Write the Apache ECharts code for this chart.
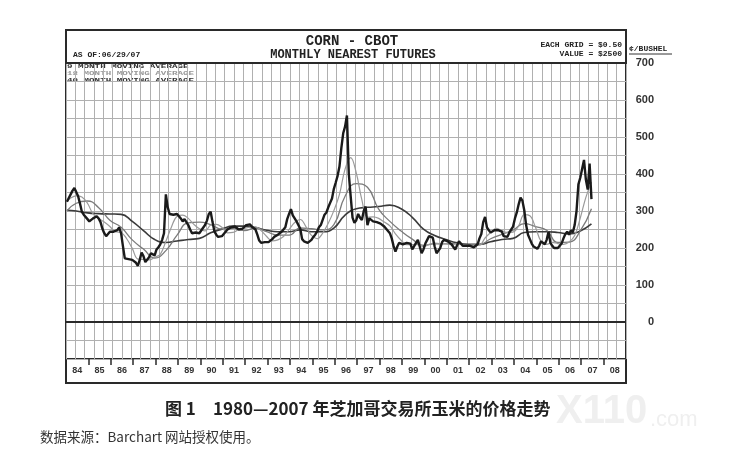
<!DOCTYPE html>
<html><head><meta charset="utf-8">
<script src="https://cdn.jsdelivr.net/npm/echarts@6/dist/echarts.min.js"></script>
<style>html,body{margin:0;padding:0;background:#fff;}#c{width:730px;height:468px;}</style>
</head><body><div id="c"></div>
<script>
// ---- data ----
const yearLabels = ['84','85','86','87','88','89','90','91','92','93','94','95','96','97','98','99','00','01','02','03','04','05','06','07','08'];
const priceTicks = [0,100,200,300,400,500,600,700];
// Monthly nearest futures, cents/bushel, Jan 1984 .. Jun 2007
const price = [
  325,335,345,355,362,358,340,320,298,290,285,278,
  272,268,280,284,286,280,270,252,240,232,230,244,
  246,244,242,248,256,240,205,172,168,170,165,168,
  172,160,152,168,188,178,162,158,175,186,182,180,
  196,202,210,222,240,345,310,292,296,290,286,292,
  286,280,272,278,270,262,250,240,236,242,246,240,
  248,252,262,274,292,298,270,245,236,230,228,232,
  236,244,250,254,256,252,258,254,250,246,252,256,
  262,266,264,258,256,250,236,220,214,212,216,218,
  216,218,224,230,232,236,240,244,242,256,278,292,
  305,288,280,272,268,252,224,218,216,214,218,222,
  230,236,244,256,262,276,290,296,310,322,334,360,
  377,395,420,470,510,528,558,400,340,282,268,275,
  292,282,276,300,312,262,280,282,272,276,270,268,
  266,262,258,252,246,240,226,205,190,204,214,212,
  210,206,214,210,212,196,200,214,222,204,186,196,
  212,222,232,236,228,204,186,190,200,216,222,226,
  218,214,210,206,196,200,218,214,206,208,206,210,
  206,204,202,204,210,226,238,270,284,256,248,242,
  246,248,244,248,250,244,232,234,230,242,250,258,
  280,296,318,336,328,302,262,236,224,212,204,200,
  198,206,218,216,210,222,244,214,206,200,196,200,
  196,212,226,238,244,236,248,242,262,300,372,390,
  395,438,385,358,428,332
];
// 9-month MA read at Jan 1984, then every quarter end (Mar 1984 ...)
const ma9 = [325,
  335,341,338,321, 292,280,270,258, 244,242,225,199, 170,169,168,175,
  183,218,257,286, 289,280,264,252, 246,262,264,256, 241,242,250,253,
  256,257,247,231, 219,222,231,250, 269,277,258,234, 225,240,267,301,
  345,413,444,403, 330,283,284,280, 270,260,238,221, 209,209,209,204,
  210,213,212,212, 209,212,209,207, 208,208,227,242, 253,247,242,243,
  260,290,287,256, 218,210,215,212, 210,216,234,281, 337,378];
// 18-month MA read at Jan 1984, then every half-year end (Jun 1984 ...)
const ma18 = [300,
  321,327, 309,275, 256,222, 197,173, 193,235, 268,270, 263,251, 253,247,
  254,244, 235,235, 254,252, 249,263, 340,374, 364,305, 272,246, 224,207,
  211,211, 212,208, 209,225, 237,248, 266,258, 248,215, 216,246, 306];
// 40-month MA read at Jan 1984, then every half-year end
const ma40 = [302,
  300,295, 293,292, 291,272, 247,223, 215,219, 223,226, 241,251, 259,259,
  255,248, 244,244, 249,244, 244,254, 289,306, 310,312, 316,306, 283,251,
  234,223, 214,210, 210,217, 223,226, 242,244, 244,242, 238,246, 265];
const legendNames = ['9 MONTH MOVING AVERAGE','18 MONTH MOVING AVERAGE','40 MONTH MOVING AVERAGE'];

// ---- build (month index -> x value, mid-month) ----
function monthlyPoints(vals){ return vals.map((v,i)=>[i+0.5, v]); }
function sampledPoints(vals, first, step){
  return vals.map((v,i)=>[ (i===0 ? 0 : first + (i-1)*step) + 0.5, v]);
}
const totalMonths = yearLabels.length * 12;

const chart = echarts.init(document.getElementById('c'), null, {renderer:'canvas'});
const gridColor = '#b0b0b0';
const frame = '#2a2a2a';
function mono(s){ return 'bold ' + s + 'px "Liberation Mono", "DejaVu Sans Mono", monospace'; }
const legendColors = ['#333','#999','#333'];
const legendTexts = legendNames.map((t,i)=>({
  type:'text', x:67, y:67 + i*7, scaleX:1.15, scaleY:0.72,
  style:{text:t, x:0, y:0, align:'left', verticalAlign:'middle', font:mono(8), fill:legendColors[i]}
}));

chart.setOption({
  animation:false,
  backgroundColor:'#fff',
  grid:[
    {left:66, right:104, top:63, height:296, show:true, borderColor:frame, borderWidth:2, backgroundColor:'transparent'},
    {left:66, right:104, top:359, height:24, show:true, borderColor:frame, borderWidth:2, backgroundColor:'transparent'}
  ],
  xAxis:[
    {type:'value', gridIndex:0, min:0, max:totalMonths, interval:5,
     axisLine:{show:false}, axisTick:{show:false}, axisLabel:{show:false},
     splitLine:{show:true, lineStyle:{color:gridColor, width:1}}},
    {type:'category', gridIndex:1, position:'top', data:yearLabels, boundaryGap:true,
     axisLine:{show:false, onZero:false}, splitLine:{show:false},
     axisTick:{show:true, inside:true, length:6, alignWithLabel:false, lineStyle:{color:frame, width:1.5}},
     axisLabel:{show:true, inside:true, margin:7, interval:0, color:'#333',
       fontFamily:'"Liberation Sans", Arial, sans-serif', fontWeight:'bold', fontSize:9}}
  ],
  yAxis:[
    {type:'value', gridIndex:0, position:'right', min:-100, max:700, interval:50,
     axisLine:{show:false}, axisTick:{show:false},
     splitLine:{show:true, lineStyle:{color:gridColor, width:1}},
     axisLabel:{show:true, align:'right', margin:28, color:'#333',
       fontFamily:'"Liberation Sans", Arial, sans-serif', fontWeight:'bold', fontSize:11,
       formatter:v => priceTicks.indexOf(v) >= 0 ? String(v) : ''}},
    {type:'value', gridIndex:1, min:0, max:1, show:false}
  ],
  series:[
    {name:legendNames[2], type:'line', data:sampledPoints(ma40, 5, 6), smooth:0.5,
     symbol:'none', lineStyle:{color:'#3a3a3a', width:1.6}, z:3,
     markLine:{silent:true, symbol:'none', label:{show:false},
       lineStyle:{color:frame, width:2, type:'solid'}, data:[{yAxis:0}]}},
    {name:legendNames[1], type:'line', data:sampledPoints(ma18, 5, 6), smooth:0.5,
     symbol:'none', lineStyle:{color:'#7a7a7a', width:1.3}, z:3},
    {name:legendNames[0], type:'line', data:sampledPoints(ma9, 2, 3), smooth:0.4,
     symbol:'none', lineStyle:{color:'#9a9a9a', width:1.2}, z:3},
    {name:'CORN', type:'line', data:monthlyPoints(price), symbol:'none',
     lineStyle:{color:'#1a1a1a', width:2.4}, z:4},
    {type:'line', xAxisIndex:1, yAxisIndex:1, data:[], silent:true}
  ],
  graphic:[
    {type:'rect', shape:{x:66, y:30, width:560, height:33}, style:{fill:'none', stroke:frame, lineWidth:2}, z:10},
    {type:'text', style:{text:'CORN - CBOT', x:352, y:41, align:'center', verticalAlign:'middle', font:mono(14), fill:'#222'}},
    {type:'text', style:{text:'MONTHLY NEAREST FUTURES', x:353, y:55, align:'center', verticalAlign:'middle', font:mono(12), fill:'#222'}},
    {type:'text', style:{text:'AS OF:06/29/07', x:73, y:55, align:'left', verticalAlign:'middle', font:mono(8), fill:'#222'}},
    {type:'text', style:{text:'EACH GRID = $0.50', x:622, y:45, align:'right', verticalAlign:'middle', font:mono(8), fill:'#222'}},
    {type:'text', style:{text:'VALUE = $2500', x:622, y:54, align:'right', verticalAlign:'middle', font:mono(8), fill:'#222'}},
    {type:'text', style:{text:'¢/BUSHEL', x:629, y:49, align:'left', verticalAlign:'middle', font:mono(8), fill:'#222'}},
    {type:'line', shape:{x1:629, y1:54, x2:672, y2:54}, style:{stroke:'#333', lineWidth:1}}
  ].concat(legendTexts).concat([
    {type:'text', style:{text:'图 1　1980—2007 年芝加哥交易所玉米的价格走势', x:165, y:409, align:'left', verticalAlign:'middle',
      font:'bold 17px "Noto Sans CJK SC", sans-serif', fill:'#222'}},
    {type:'text', style:{text:'数据来源：Barchart 网站授权使用。', x:40, y:437, align:'left', verticalAlign:'middle',
      font:'13.5px "Noto Sans CJK SC", sans-serif', fill:'#333'}},
    {type:'text', style:{text:'X110', x:556, y:412, align:'left', verticalAlign:'middle',
      font:'bold 40px "Liberation Sans", sans-serif', fill:'rgba(215,215,215,0.4)'}},
    {type:'text', style:{text:'.com', x:650, y:420, align:'left', verticalAlign:'middle',
      font:'22px "Liberation Sans", sans-serif', fill:'rgba(215,215,215,0.4)'}}
  ])
});
</script></body></html>
